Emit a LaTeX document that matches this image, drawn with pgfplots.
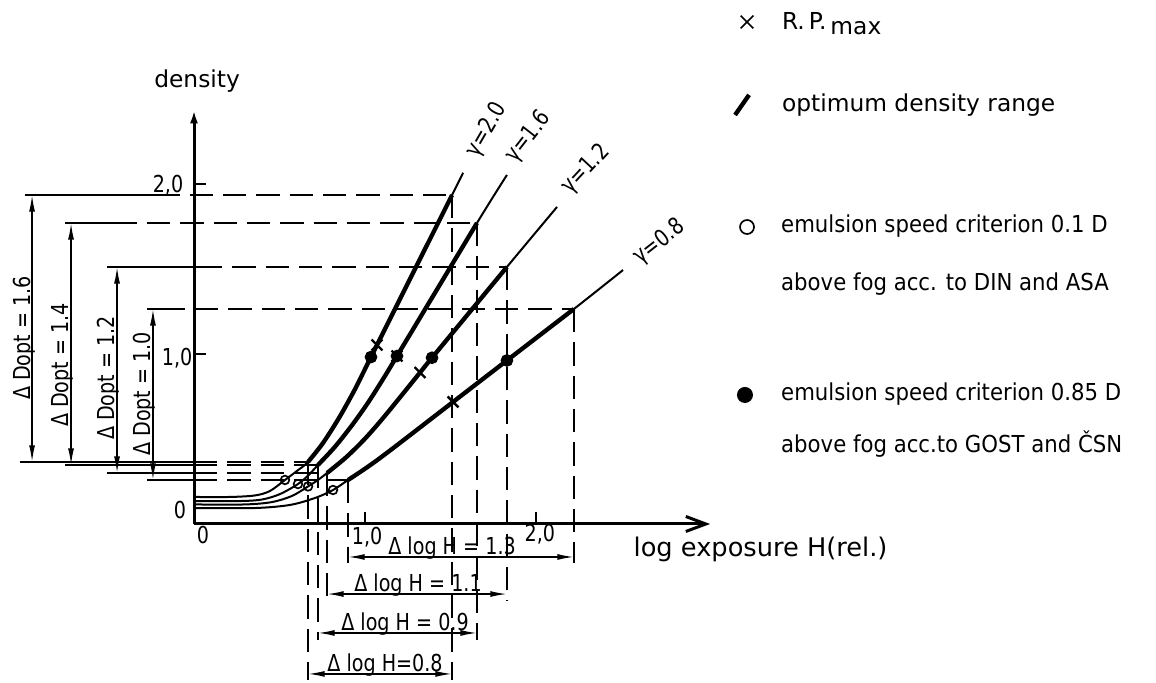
\documentclass[border=0pt]{standalone}
\usepackage{fontspec}
\setmainfont{DejaVu Sans}
\newfontfamily\cond{DejaVu Sans}[FakeStretch=0.82]
\newfontfamily\legf{DejaVu Sans}[FakeStretch=0.91]
\usepackage{pgfplots}
\pgfplotsset{compat=1.18}
\usetikzlibrary{arrows.meta}
\newcommand\nf{\fontsize{7}{8.4}\selectfont}
\newcommand\cf{\fontsize{7}{8.4}\cond}
\newcommand\lf{\fontsize{7}{8.4}\legf}
\begin{document}
\begin{tikzpicture}[font=\nf,
  dsh/.style={line width=0.45pt, dash pattern=on 7pt off 3pt},
  ext/.style={line width=0.45pt},
  dim/.style={line width=0.45pt, {Latex[length=5pt,width=1.8pt]}-{Latex[length=5pt,width=1.8pt]}}]
\begin{axis}[
  x=51.3pt, y=51pt,
  xmin=0, xmax=3.018, ymin=0, ymax=2.435,
  axis x line=bottom, axis y line=left,
  x axis line style={line width=0.9pt, -{Straight Barb[length=6pt,width=4.5pt]}},
  y axis line style={line width=0.9pt, -{Latex[length=4pt,width=2.4pt]}},
  xtick={1,2}, ytick={1,2},
  xticklabels={}, yticklabels={},
  tick align=inside, major tick length=3.5pt,
  tick style={black, line width=0.6pt},
  clip=false,
]
% corners of the whole picture
\coordinate (BL) at (axis cs:-1.1345,-0.9353);
\coordinate (TR) at (axis cs:5.6257,3.0824);

% ---------- characteristic curves (thin) ----------
\addplot[black, line width=0.6pt, smooth] coordinates {(0,0.159) (0.211,0.159) (0.357,0.168) (0.444,0.194) (0.532,0.259) (0.602,0.312) (0.667,0.365) (0.754,0.476) (0.848,0.624) (0.942,0.794) (1.035,0.982) (1.509,1.935) (1.573,2.065)};
\addplot[black, line width=0.6pt, smooth] coordinates {(0,0.135) (0.269,0.135) (0.398,0.144) (0.503,0.176) (0.608,0.235) (0.667,0.285) (0.725,0.347) (0.825,0.455) (0.924,0.581) (1.018,0.714) (1.117,0.871) (1.187,0.988) (1.655,1.771) (1.830,2.053)};
\addplot[black, line width=0.6pt, smooth] coordinates {(0,0.115) (0.298,0.115) (0.456,0.129) (0.573,0.165) (0.667,0.221) (0.725,0.259) (0.778,0.300) (0.889,0.392) (1.0,0.502) (1.117,0.637) (1.322,0.891) (1.392,0.978) (1.830,1.512) (2.123,1.865)};
\addplot[black, line width=0.6pt, smooth] coordinates {(0,0.094) (0.357,0.094) (0.561,0.112) (0.708,0.153) (0.813,0.2) (0.901,0.259) (1.088,0.388) (1.515,0.718) (1.830,0.962) (2.222,1.265) (2.509,1.494)};
% ---------- optimum density range (thick) ----------
\addplot[black, line width=1.3pt, smooth] coordinates {(0.667,0.365) (0.754,0.476) (0.848,0.624) (0.942,0.794) (1.035,0.982) (1.509,1.935)};
\addplot[black, line width=1.3pt, smooth] coordinates {(0.725,0.347) (0.825,0.455) (0.924,0.581) (1.018,0.714) (1.117,0.871) (1.187,0.988) (1.655,1.771)};
\addplot[black, line width=1.3pt, smooth] coordinates {(0.778,0.300) (0.889,0.392) (1.0,0.502) (1.117,0.637) (1.322,0.891) (1.392,0.978) (1.830,1.512)};
\addplot[black, line width=1.3pt, smooth] coordinates {(0.901,0.259) (1.088,0.388) (1.515,0.718) (1.830,0.962) (2.222,1.265)};
% ---------- markers ----------
\addplot[only marks, mark=o, mark size=1.3pt, mark options={fill=white, line width=0.5pt}] coordinates {(0.532,0.259) (0.608,0.235) (0.667,0.221) (0.813,0.2)};
\addplot[only marks, mark=*, mark size=1.7pt] coordinates {(1.035,0.982) (1.187,0.988) (1.392,0.978) (1.830,0.962)};
\addplot[only marks, mark=x, mark size=2.3pt, mark options={line width=0.7pt}] coordinates {(1.070,1.053) (1.187,0.988) (1.322,0.891) (1.515,0.718)};

% ---------- horizontal guide lines ----------
\draw[ext] (axis cs:-0.99,1.935) -- (axis cs:-0.22,1.935);
\draw[dsh] (axis cs:-0.22,1.935) -- (axis cs:1.509,1.935);
\draw[ext] (axis cs:-0.755,1.771) -- (axis cs:-0.47,1.771);
\draw[dsh] (axis cs:-0.47,1.771) -- (axis cs:1.655,1.771);
\draw[ext] (axis cs:-0.51,1.512) -- (axis cs:0.03,1.512);
\draw[dsh] (axis cs:0.03,1.512) -- (axis cs:1.830,1.512);
\draw[ext] (axis cs:-0.275,1.265) -- (axis cs:-0.19,1.265);
\draw[dsh] (axis cs:-0.19,1.265) -- (axis cs:2.222,1.265);
\draw[ext] (axis cs:-1.02,0.365) -- (axis cs:0,0.365);
\draw[dsh] (axis cs:0,0.365) -- (axis cs:0.667,0.365);
\draw[ext] (axis cs:-0.755,0.347) -- (axis cs:0,0.347);
\draw[dsh] (axis cs:0,0.347) -- (axis cs:0.725,0.347);
\draw[ext] (axis cs:-0.51,0.300) -- (axis cs:0,0.300);
\draw[dsh] (axis cs:0,0.300) -- (axis cs:0.778,0.300);
\draw[ext] (axis cs:-0.275,0.259) -- (axis cs:0,0.259);
\draw[dsh] (axis cs:0,0.259) -- (axis cs:0.901,0.259);
% ---------- vertical guide lines ----------
\draw[dsh] (axis cs:1.509,1.935) -- (axis cs:1.509,-0.92);
\draw[dsh] (axis cs:0.667,0.365) -- (axis cs:0.667,-0.92);
\draw[dsh] (axis cs:1.655,1.771) -- (axis cs:1.655,-0.68);
\draw[dsh] (axis cs:0.725,0.347) -- (axis cs:0.725,-0.68);
\draw[dsh] (axis cs:1.830,1.512) -- (axis cs:1.830,-0.45);
\draw[dsh] (axis cs:0.778,0.300) -- (axis cs:0.778,-0.45);
\draw[dsh] (axis cs:2.222,1.265) -- (axis cs:2.222,-0.23);
\draw[dsh] (axis cs:0.901,0.259) -- (axis cs:0.901,-0.23);

% ---------- dimension lines: density ----------
\draw[dim] (axis cs:-0.947,0.365) -- (axis cs:-0.947,1.935);
\draw[dim] (axis cs:-0.719,0.347) -- (axis cs:-0.719,1.771);
\draw[dim] (axis cs:-0.450,0.300) -- (axis cs:-0.450,1.512);
\draw[dim] (axis cs:-0.240,0.259) -- (axis cs:-0.240,1.265);
\node[rotate=90, anchor=base, font=\cf] at (axis cs:-0.959,1.094) {Δ Dopt = 1.6};
\node[rotate=90, anchor=base, font=\cf] at (axis cs:-0.731,0.935) {Δ Dopt = 1.4};
\node[rotate=90, anchor=base, font=\cf] at (axis cs:-0.462,0.859) {Δ Dopt = 1.2};
\node[rotate=90, anchor=base, font=\cf] at (axis cs:-0.252,0.765) {Δ Dopt = 1.0};
% ---------- dimension lines: log exposure ----------
\draw[dim] (axis cs:0.901,-0.194) -- (axis cs:2.222,-0.194);
\draw[dim] (axis cs:0.778,-0.412) -- (axis cs:1.830,-0.412);
\draw[dim] (axis cs:0.725,-0.641) -- (axis cs:1.655,-0.641);
\draw[dim] (axis cs:0.667,-0.882) -- (axis cs:1.509,-0.882);
\node[anchor=base, font=\cf] at (axis cs:1.509,-0.180) {Δ log H = 1.3};
\node[anchor=base, font=\cf] at (axis cs:1.310,-0.398) {Δ log H = 1.1};
\node[anchor=base, font=\cf] at (axis cs:1.234,-0.627) {Δ log H = 0.9};
\node[anchor=base, font=\cf, inner sep=0pt] at (axis cs:1.117,-0.868) {Δ log H=0.8};

% ---------- gamma labels ----------
\node[rotate=60, font=\cf] at (axis cs:1.712,2.318) {γ=2.0};
\node[rotate=52, font=\cf] at (axis cs:1.957,2.275) {γ=1.6};
\node[rotate=47, font=\cf] at (axis cs:2.293,2.085) {γ=1.2};
\node[rotate=38, font=\cf] at (axis cs:2.722,1.657) {γ=0.8};

% ---------- tick labels and axis labels ----------
\node[font=\cf] at (axis cs:-0.082,0.082) {0};
\node[font=\cf] at (axis cs:0.053,-0.065) {0};
\node[font=\cf] at (axis cs:1.012,-0.076) {1,0};
\node[font=\cf] at (axis cs:2.023,-0.059) {2,0};
\node[font=\cf] at (axis cs:-0.152,1.994) {2,0};
\node[font=\cf] at (axis cs:-0.099,0.976) {1,0};
\node[anchor=base] at (axis cs:0.018,2.565) {density};
\node[anchor=base west, inner sep=0pt, font=\fontsize{7.7}{9}\selectfont] at (axis cs:2.567,-0.194) {log exposure H(rel.)};

% ---------- key ----------
\addplot[only marks, mark=x, mark size=2.7pt, mark options={line width=0.5pt}] coordinates {(3.234,2.953)};
\addplot[black, line width=1.3pt] coordinates {(3.164,2.406) (3.246,2.524)};
\addplot[only marks, mark=o, mark size=2.1pt, mark options={line width=0.5pt}] coordinates {(3.234,1.747)};
\addplot[only marks, mark=*, mark size=2.2pt] coordinates {(3.222,0.759)};
\node[anchor=base west, inner sep=0pt] at (axis cs:3.435,2.906) {R.\,P.\,\raisebox{-0.35ex}{max}};
\node[anchor=base west, inner sep=0pt] at (axis cs:3.435,2.424) {optimum density range};
\node[anchor=base west, inner sep=0pt, font=\lf] at (axis cs:3.43,1.712) {emulsion speed criterion 0.1 D};
\node[anchor=base west, inner sep=0pt, font=\lf] at (axis cs:3.43,1.376) {above fog acc. to DIN and ASA};
\node[anchor=base west, inner sep=0pt, font=\lf] at (axis cs:3.43,0.729) {emulsion speed criterion 0.85 D};
\node[anchor=base west, inner sep=0pt, font=\lf] at (axis cs:3.43,0.418) {above fog acc.to GOST and ČSN};
\end{axis}
\pgfresetboundingbox
\path[use as bounding box] (BL) rectangle (TR);
\end{tikzpicture}
\end{document}
